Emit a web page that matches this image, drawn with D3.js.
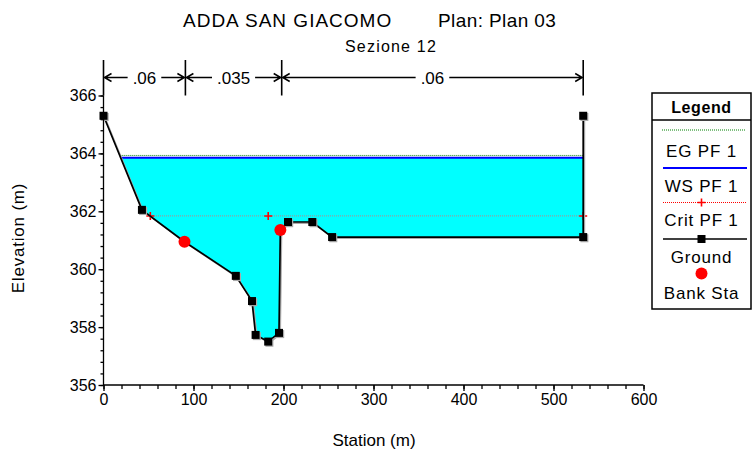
<!DOCTYPE html>
<html>
<head>
<meta charset="utf-8">
<script src="https://cdn.jsdelivr.net/npm/d3@7"></script>
<style>
  html, body { margin: 0; padding: 0; background: #fff; }
  svg { display: block; font-family: "Liberation Sans", Arial, sans-serif; }
</style>
</head>
<body>
<div id="chart"></div>
<script>
// Ground profile (station m, elevation m)
const groundSta = [0, 42.7, 90, 147, 165, 169, 183, 195, 196.5, 205, 232, 254, 533, 533];
const groundElev = [365.30, 362.05, 360.95, 359.77, 358.90, 357.73, 357.50, 357.80, 361.35, 361.63, 361.63, 361.11, 361.11, 365.30];
const bankSta = [90, 196.5];

const wsElev = 363.85;
const egElev = 363.93;
const critElev = 361.84;
const critSta = [52, 183, 533];

const manningBreaks = [0, 91, 198, 533];
const manningValues = ['.06', '.035', '.06'];

const xTicks = [0, 100, 200, 300, 400, 500, 600];
const yTicks = [356, 358, 360, 362, 364, 366];

const legendItems = ['EG PF 1', 'WS PF 1', 'Crit PF 1', 'Ground', 'Bank Sta'];

const width = 752;
const height = 453;

const svg = d3.select('#chart')
    .append('svg')
    .attr('width', width)
    .attr('height', height);

const x = d3.scaleLinear().domain([0, 600]).range([103.5, 643.5]);
const y = d3.scaleLinear().domain([356, 366]).range([385, 95.5]);

const ground = groundSta.map((s, i) => ({ sta: s, elev: groundElev[i] }));

// water surface: left intersection with ground
function leftCrossing(elev) {
    for (let i = 0; i < ground.length - 1; i++) {
        const a = ground[i], b = ground[i + 1];
        if (a.elev >= elev && b.elev < elev) {
            const t = (a.elev - elev) / (a.elev - b.elev);
            return a.sta + t * (b.sta - a.sta);
        }
    }
    return ground[0].sta;
}
const wsLeft = leftCrossing(wsElev);
const egLeft = leftCrossing(egElev);
const critLeft = leftCrossing(critElev);
const rightSta = ground[ground.length - 1].sta;

const waterPts = [{ sta: wsLeft, elev: wsElev }]
    .concat(ground.filter((d) => d.elev < wsElev))
    .concat([{ sta: rightSta, elev: wsElev }]);

svg.append('path')
    .datum(waterPts)
    .attr('d', d3.line().x((d) => x(d.sta)).y((d) => y(d.elev)))
    .attr('fill', '#00ffff');

// EG
svg.append('line')
    .attr('x1', x(egLeft)).attr('x2', x(rightSta))
    .attr('y1', y(egElev)).attr('y2', y(egElev))
    .attr('stroke', '#008000').attr('stroke-width', 1)
    .attr('stroke-dasharray', '1,1');

// WS
svg.append('line')
    .attr('x1', x(wsLeft)).attr('x2', x(rightSta))
    .attr('y1', y(wsElev)).attr('y2', y(wsElev))
    .attr('stroke', '#0000ff').attr('stroke-width', 2);

// Crit (red dots over cyan read as grey)
svg.append('line')
    .attr('x1', x(critLeft)).attr('x2', x(rightSta))
    .attr('y1', y(critElev)).attr('y2', y(critElev))
    .attr('stroke', '#9a9a9a').attr('stroke-width', 1.2)
    .attr('stroke-dasharray', '1,1');

function plus(g, cx, cy) {
    g.append('path')
        .attr('d', `M${cx - 4},${cy}H${cx + 4}M${cx},${cy - 4}V${cy + 4}`)
        .attr('stroke', '#ff0000').attr('stroke-width', 1.6);
}
critSta.forEach((s) => plus(svg, x(s), y(critElev)));

// Ground with shadow
const groundLine = d3.line().x((d) => x(d.sta)).y((d) => y(d.elev));
svg.append('path')
    .datum(ground)
    .attr('d', groundLine)
    .attr('transform', 'translate(1.2,1.2)')
    .attr('fill', 'none').attr('stroke', '#aaaaaa').attr('stroke-width', 1.6);
svg.append('path')
    .datum(ground)
    .attr('d', groundLine)
    .attr('fill', 'none').attr('stroke', '#000').attr('stroke-width', 1.7);

const squares = ground.filter((d) => !bankSta.includes(d.sta));
svg.selectAll('rect.shadow')
    .data(squares).enter().append('rect')
    .attr('x', (d) => x(d.sta) - 4 + 1.2).attr('y', (d) => y(d.elev) - 4 + 1.2)
    .attr('width', 8).attr('height', 8).attr('fill', '#aaaaaa');
svg.selectAll('rect.pt')
    .data(squares).enter().append('rect')
    .attr('x', (d) => x(d.sta) - 4).attr('y', (d) => y(d.elev) - 4)
    .attr('width', 8).attr('height', 8).attr('fill', '#000');

svg.selectAll('circle.bank')
    .data(ground.filter((d) => bankSta.includes(d.sta))).enter().append('circle')
    .attr('cx', (d) => x(d.sta)).attr('cy', (d) => y(d.elev))
    .attr('r', 6).attr('fill', '#ff0000');

// Axes
const xAxis = svg.append('g')
    .attr('transform', `translate(0,${y(356)})`)
    .call(d3.axisBottom(x).tickValues(xTicks).tickSize(6).tickPadding(3).tickFormat(d3.format('d')));
svg.append('g')
    .attr('transform', `translate(0,${y(356)})`)
    .call(d3.axisBottom(x).tickValues(d3.range(0, 601, 20)).tickSize(4).tickFormat(''))
    .call((g) => g.select('.domain').remove());

const yAxis = svg.append('g')
    .attr('transform', `translate(${x(0)},0)`)
    .call(d3.axisLeft(y).tickValues(yTicks).tickSize(5).tickPadding(2).tickFormat(d3.format('d')));
svg.append('g')
    .attr('transform', `translate(${x(0)},0)`)
    .call(d3.axisLeft(y).tickValues(d3.range(356, 366.01, 0.4)).tickSize(3).tickFormat(''))
    .call((g) => g.select('.domain').remove());

xAxis.select('.domain').attr('d', `M${x(0)},0H${x(600)}`);
yAxis.select('.domain').attr('d', `M0,${y(356)}V${y(366)}`);
svg.selectAll('.tick line, .domain').attr('stroke', '#000').attr('stroke-width', 1.3);
svg.selectAll('.tick text').attr('font-size', 16).attr('fill', '#000')
    .attr('font-family', '"Liberation Sans", Arial, sans-serif');

// Manning n bar
const nTop = 60, nBottom = y(366), nY = 77.5;
const nBar = svg.append('g');
manningBreaks.forEach((s) => {
    nBar.append('line')
        .attr('x1', x(s)).attr('x2', x(s)).attr('y1', nTop).attr('y2', nBottom)
        .attr('stroke', '#000').attr('stroke-width', 1.6);
});
manningValues.forEach((v, i) => {
    const x0 = x(manningBreaks[i]), x1 = x(manningBreaks[i + 1]);
    const cx = (x0 + x1) / 2;
    const t = nBar.append('text')
        .attr('x', cx).attr('y', nY + 6)
        .attr('text-anchor', 'middle').attr('font-size', 17).text(v);
    const w = t.node().getComputedTextLength();
    const gap = 5;
    nBar.append('path')
        .attr('d', `M${x0 + 1},${nY}H${cx - w / 2 - gap}M${cx + w / 2 + gap},${nY}H${x1 - 1}` +
            `M${x0 + 8},${nY - 4}L${x0 + 1},${nY}L${x0 + 8},${nY + 4}` +
            `M${x1 - 8},${nY - 4}L${x1 - 1},${nY}L${x1 - 8},${nY + 4}`)
        .attr('fill', 'none').attr('stroke', '#000').attr('stroke-width', 1.5);
});

// Titles
svg.append('text').attr('x', 183).attr('y', 27).attr('font-size', 19)
    .attr('letter-spacing', 1).text('ADDA SAN GIACOMO');
svg.append('text').attr('x', 438).attr('y', 27).attr('font-size', 19)
    .attr('letter-spacing', 0.4).text('Plan: Plan 03');
svg.append('text').attr('x', 345).attr('y', 52).attr('font-size', 16)
    .attr('letter-spacing', 1.2).text('Sezione 12');

svg.append('text')
    .attr('transform', 'translate(24,238) rotate(-90)')
    .attr('text-anchor', 'middle').attr('font-size', 17)
    .attr('letter-spacing', 0.8).text('Elevation (m)');
svg.append('text')
    .attr('x', 374).attr('y', 446)
    .attr('text-anchor', 'middle').attr('font-size', 17).text('Station (m)');

// Legend
const lg = svg.append('g');
const lx0 = 652, lx1 = 751, lcx = (lx0 + lx1) / 2;
lg.append('rect').attr('x', lx0).attr('y', 93).attr('width', lx1 - lx0).attr('height', 216)
    .attr('fill', '#fff').attr('stroke', '#000').attr('stroke-width', 1.5);
lg.append('line').attr('x1', lx0).attr('x2', lx1).attr('y1', 120).attr('y2', 120)
    .attr('stroke', '#000').attr('stroke-width', 1.5);
lg.append('text').attr('x', lcx).attr('y', 113).attr('text-anchor', 'middle')
    .attr('font-size', 16).attr('font-weight', 'bold').attr('letter-spacing', 0.6).text('Legend');

const textY = [156.5, 191.5, 226, 262.5, 298.5];
legendItems.forEach((name, i) => {
    lg.append('text').attr('x', lcx).attr('y', textY[i]).attr('text-anchor', 'middle')
        .attr('font-size', 17).attr('letter-spacing', 0.8).text(name);
});
lg.append('line').attr('x1', 662).attr('x2', 746).attr('y1', 130).attr('y2', 130)
    .attr('stroke', '#008000').attr('stroke-dasharray', '1,1');
lg.append('line').attr('x1', 663).attr('x2', 747).attr('y1', 202.5).attr('y2', 202.5)
    .attr('stroke', '#ff0000').attr('stroke-width', 1).attr('stroke-dasharray', '1,1');
lg.append('line').attr('x1', 663).attr('x2', 747).attr('y1', 168).attr('y2', 168)
    .attr('stroke', '#0000ff').attr('stroke-width', 2);
plus(lg, lcx, 202.5);
lg.append('line').attr('x1', 663).attr('x2', 747).attr('y1', 239).attr('y2', 239)
    .attr('stroke', '#000').attr('stroke-width', 1.6);
lg.append('rect').attr('x', lcx - 4).attr('y', 235).attr('width', 8).attr('height', 8).attr('fill', '#000');
lg.append('circle').attr('cx', lcx).attr('cy', 273.5).attr('r', 6).attr('fill', '#ff0000');
</script>
</body>
</html>
